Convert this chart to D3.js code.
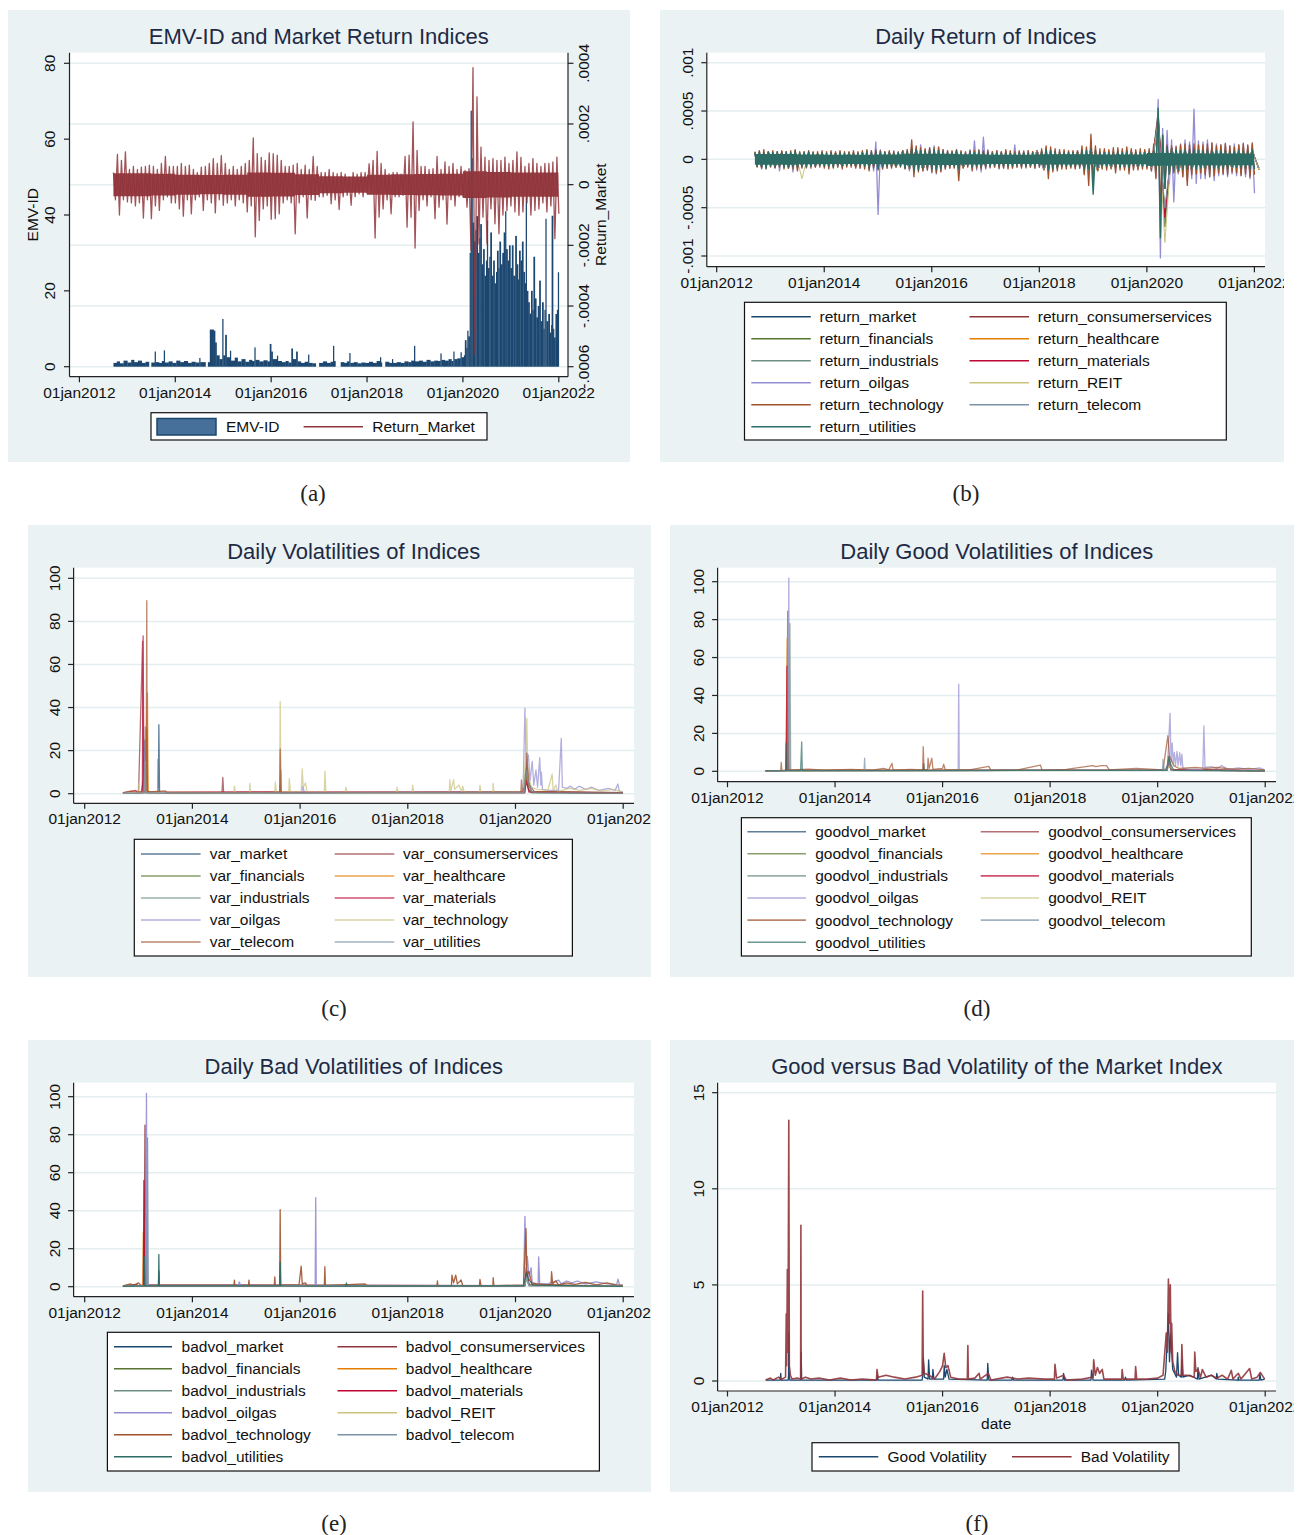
<!DOCTYPE html>
<html><head><meta charset="utf-8">
<script src="https://cdn.jsdelivr.net/npm/d3@7"></script>
<style>
body{margin:0;background:#fff}
svg{display:block}
text{font-family:"Liberation Sans",Arial,sans-serif}
</style></head>
<body><svg id="c" width="1298" height="1535"></svg>
<script>
// ---------------- DATA ----------------
const xTicks = [2012,2014,2016,2018,2020,2022];
const xTickLabels = ["01jan2012","01jan2014","01jan2016","01jan2018","01jan2020","01jan2022"];

// Panel (a): EMV-ID (bars, [decimal year, value]) and Return_Market (monthly high/low, units of 1e-5)
const emvId = [[2012.71,1.0],[2012.78,1.4],[2012.84,0.9],[2012.92,1.6],[2013.00,1.1],[2013.08,1.8],[2013.14,1.2],[2013.22,1.6],[2013.30,1.0],[2013.38,1.3],[2013.45,0],[2013.50,1.1],[2013.57,4.0],[2013.59,1.2],[2013.66,1.0],[2013.72,1.5],[2013.76,4.3],[2013.78,1.1],[2013.86,1.4],[2013.94,1.0],[2014.02,1.6],[2014.10,1.2],[2014.18,1.5],[2014.26,1.0],[2014.34,1.3],[2014.42,1.1],[2014.50,2.3],[2014.52,1.2],[2014.63,0],[2014.68,1.2],[2014.72,9.8],[2014.80,9.5],[2014.83,6.4],[2014.86,3.0],[2014.92,2.0],[2014.98,12.6],[2015.00,3.0],[2015.04,8.4],[2015.07,2.5],[2015.14,4.2],[2015.16,1.6],[2015.24,2.4],[2015.30,1.4],[2015.38,2.0],[2015.46,1.3],[2015.54,1.8],[2015.60,1.5],[2015.65,5.1],[2015.67,1.8],[2015.75,1.4],[2015.84,1.7],[2015.92,1.4],[2015.97,6.0],[2016.00,4.0],[2016.03,2.0],[2016.12,2.9],[2016.14,1.5],[2016.22,1.2],[2016.30,1.5],[2016.36,1.1],[2016.42,4.8],[2016.45,2.0],[2016.52,4.0],[2016.55,1.4],[2016.62,1.0],[2016.70,1.3],[2016.77,3.2],[2016.79,1.0],[2016.86,0.9],[2016.93,0],[2017.00,1.0],[2017.08,1.4],[2017.16,1.0],[2017.24,1.3],[2017.29,5.5],[2017.31,1.5],[2017.34,0],[2017.45,1.2],[2017.52,1.0],[2017.58,1.4],[2017.63,3.6],[2017.65,1.0],[2017.72,1.2],[2017.80,0.9],[2017.88,1.1],[2017.96,1.0],[2018.04,1.3],[2018.12,1.0],[2018.20,1.5],[2018.27,2.5],[2018.29,1.1],[2018.31,0],[2018.38,1.3],[2018.46,1.0],[2018.52,2.0],[2018.54,1.0],[2018.62,1.2],[2018.70,1.0],[2018.78,1.4],[2018.86,1.2],[2018.92,1.6],[2018.98,5.5],[2019.00,1.4],[2019.08,1.6],[2019.16,1.3],[2019.24,1.8],[2019.32,1.4],[2019.40,1.6],[2019.48,1.5],[2019.53,3.5],[2019.55,1.8],[2019.62,1.6],[2019.70,2.0],[2019.76,1.5],[2019.80,4.0],[2019.82,2.0],[2019.88,2.2],[2019.95,3.8],[2019.97,2.5],[2020.02,3.0],[2020.04,7.0],[2020.07,5.0],[2020.09,9.5],[2020.11,8.0],[2020.14,30],[2020.16,67.5],[2020.18,55],[2020.20,38],[2020.23,33],[2020.26,36],[2020.28,39.7],[2020.31,30],[2020.34,34],[2020.36,37.6],[2020.39,27],[2020.42,31],[2020.45,24],[2020.48,28],[2020.50,38.5],[2020.52,26],[2020.55,29],[2020.57,35.4],[2020.60,24],[2020.63,28],[2020.66,22],[2020.69,25],[2020.71,30.6],[2020.74,26],[2020.76,33],[2020.79,27],[2020.82,30],[2020.85,35.4],[2020.88,41],[2020.90,31],[2020.93,28],[2020.96,32],[2020.99,26],[2021.02,32],[2021.05,24],[2021.09,34.5],[2021.12,27],[2021.15,23],[2021.17,30.6],[2021.20,28],[2021.23,33],[2021.26,25],[2021.29,22],[2021.31,45],[2021.33,20],[2021.36,17],[2021.39,14],[2021.42,20],[2021.45,15],[2021.47,29],[2021.50,18],[2021.53,13],[2021.56,16],[2021.59,22.7],[2021.62,12],[2021.65,17],[2021.68,10],[2021.70,15],[2021.72,39],[2021.74,12],[2021.78,13.9],[2021.81,9],[2021.84,11],[2021.85,39.8],[2021.88,10],[2021.90,7.7],[2021.93,13.9],[2021.96,15],[2021.98,24.9],[2022.00,0]];

const monthStart = 2012.71;   // first trading month in the sample (Sep 2012)
const sampleEnd = 2021.99;
const retMarketHi = [4,10,8,10.8, 5,6,5,5.8,6,6.4,6,5,7,9.3,6,6, 6,7,6,6.4,5,4,5.8,6,7,8.6,7,9.6, 7,5,6,5,6,7,8,15.4,10.2,9,8,10.5, 10.2,9.7,8,6,6,6.4,7,5,6.4,5,9.3,6, 4,4,5,4,3.6,4,3.5,2.5,4,3.5,4,4, 6.9,8,11,7,5,3.6,4,4,3.5,9.3,9.7,20.7, 11.3,6,6,5,5.3,9.3,5,7.5,6,7,5,6, 4.7,5.3,38.6,28.9,12.4,9.1,8,8.6,8,8,9.1,7, 8,10.8,9,6,7,8.6,7,6,7,7,7.5,9.1];
const retMarketLo = [-5,-10,-5,-5.7, -6,-7,-6,-11,-5,-11.2,-7,-8.5,-5,-4,-6,-6, -8,-10.4,-5,-9.6,-5,-4,-8.5,-5,-6,-9.3,-5,-6.8, -6,-5,-7,-5,-6,-9,-7,-17.2,-11.8,-8,-7,-11.4, -11.2,-9.6,-6,-5,-6,-16.2,-6,-4,-11,-5,-5.2,-4, -4,-3.5,-6.3,-5,-8.2,-4,-3.5,-6.8,-4,-3,-4,-3, -3,-17.6,-10.7,-8,-5,-9.6,-4,-4,-3.5,-14,-10.7,-20.9, -8.5,-5,-7,-4,-11.2,-7.4,-5,-13,-5,-7,-4,-4, -7.4,-21.6,-56,-19.5,-10.7,-19.5,-8,-12.9,-16.2,-10,-8.5,-7, -9,-10.1,-9,-6,-10,-8.5,-8,-6,-9,-7,-17.8,-9.6];
// dense core of the daily return band, half-width per half-year from 2012H2 (units of 1e-5)
const halfYearStart = 2012.5;
const retMarketCore = [3.8,3.8,3.6,3.3,3.2,3.3,4.0,3.9,3.4,2.8,2.7,3.3,3.4,3.5,3.6,4.4,4.2,4.0,4.0];

// Panel (b): daily returns, high/low per period (units of 1e-5)
const qMarketHi = [5,5,5,6,5,5,5,6,5,5,5,7,8,6,5,6,5,4,4,4,4,7,6,5,6,8,6,5,6,6,39,9,8,8,8,7,7,8];
const qMarketLo = [-6,-6,-7,-6,-6,-6,-7,-6,-6,-6,-7,-9,-9,-7,-6,-8,-5,-4,-4,-4,-5,-10,-6,-6,-8,-10,-7,-6,-7,-9,-56,-10,-9,-9,-9,-8,-8,-9];
const qConsHi = [6,6,6,6,6,5,6,6,6,6,6,8,9,7,6,7,5,5,5,5,5,8,7,6,7,9,7,6,7,7,42,10,9,9,9,8,8,9];
const qConsLo = [-6,-7,-7,-6,-6,-6,-7,-7,-6,-6,-7,-9,-10,-8,-6,-8,-5,-5,-5,-5,-5,-10,-7,-6,-8,-11,-8,-7,-8,-9,-60,-12,-10,-10,-9,-9,-8,-10];
const qFinHi = [7,7,7,7,6,6,7,7,6,6,7,9,10,8,7,8,6,6,6,6,6,9,8,7,8,10,8,7,8,8,50,12,10,10,10,9,9,10];
const qFinLo = [-7,-8,-8,-7,-7,-7,-8,-7,-7,-7,-8,-10,-11,-9,-7,-9,-6,-6,-6,-6,-6,-11,-8,-7,-9,-12,-9,-8,-9,-10,-70,-13,-11,-11,-10,-10,-9,-11];
const qHealthHi = [6,6,6,6,6,6,6,6,6,6,6,8,8,7,6,7,6,5,5,5,5,8,7,6,7,8,7,6,7,7,40,10,9,9,8,8,8,9];
const qHealthLo = [-6,-6,-6,-6,-6,-6,-6,-6,-6,-6,-6,-9,-9,-8,-6,-8,-5,-5,-5,-5,-5,-10,-7,-6,-8,-10,-8,-7,-8,-9,-55,-11,-10,-9,-9,-9,-8,-9];
const qIndHi = [7,7,7,7,6,6,7,7,6,6,7,9,9,8,7,8,6,6,6,6,6,9,8,7,8,10,8,7,8,8,48,11,10,10,10,9,9,10];
const qIndLo = [-7,-7,-8,-7,-7,-7,-8,-7,-7,-7,-8,-10,-10,-9,-7,-9,-6,-6,-6,-6,-6,-11,-8,-7,-9,-12,-9,-8,-9,-10,-65,-13,-11,-11,-10,-10,-9,-11];
const qMatHi = [7,8,7,7,7,6,7,7,7,7,7,9,10,8,7,8,6,6,6,6,6,9,8,7,8,10,8,7,8,8,45,12,10,10,10,9,9,10];
const qMatLo = [-8,-8,-8,-7,-7,-7,-8,-8,-7,-7,-8,-10,-11,-9,-7,-9,-6,-6,-6,-6,-6,-11,-8,-7,-9,-12,-9,-8,-9,-10,-60,-14,-11,-11,-10,-10,-9,-11];
const qReitHi = [7,7,7,8,7,7,7,7,7,7,7,9,9,8,7,8,6,6,6,6,6,9,8,7,8,10,8,7,8,8,40,11,10,10,10,9,9,10];
const qReitLo = [-7,-8,-8,-20,-7,-7,-8,-7,-7,-7,-8,-10,-10,-9,-7,-9,-6,-6,-6,-6,-6,-11,-8,-7,-9,-12,-9,-8,-9,-10,-86,-13,-11,-11,-10,-10,-9,-11];
const qTelHi = [6,6,6,6,6,6,6,6,6,6,6,8,8,7,6,7,5,5,5,5,5,8,7,6,7,8,7,6,7,7,35,10,9,9,8,8,8,9];
const qTelLo = [-6,-6,-6,-6,-6,-6,-6,-6,-6,-6,-6,-9,-9,-8,-6,-8,-5,-5,-5,-5,-5,-10,-7,-6,-8,-10,-8,-7,-8,-9,-50,-11,-10,-9,-9,-9,-8,-9];
const mOilHi = [7,8,6,7, 7,6,8,7,6,7,6,8,7,6,6,7, 6,7,6,8,6,7,6,7,8,9,9,18, 10,8,8,9,7,8,10,14,12,15,10,12, 14,12,10,9,8,10,8,7,10,19,9,23, 10,8,9,8,9,8,15,8,9,9,8,9, 9,12,10,9,8,8,8,8,9,10,11,12, 10,8,9,8,9,10,9,10,9,8,8,8, 9,10,62,32,30,20,14,16,20,18,52,19, 18,20,17,16,15,17,14,16,15,17,14,16];
const mOilLo = [-7,-10,-8,-7, -8,-12,-7,-8,-13,-7,-8,-9,-7,-8,-6,-7, -7,-6,-8,-6,-7,-6,-8,-9,-8,-10,-12,-57, -10,-9,-8,-8,-7,-9,-12,-13,-10,-12,-11,-14, -15,-12,-10,-9,-8,-12,-8,-7,-10,-11,-13,-10, -9,-8,-10,-9,-8,-9,-8,-7,-9,-8,-9,-8, -9,-13,-11,-9,-8,-8,-8,-9,-9,-14,-13,-18, -10,-9,-9,-8,-11,-9,-9,-11,-9,-9,-8,-8, -12,-18,-102,-30,-25,-44,-15,-18,-22,-20,-25,-20, -20,-18,-22,-17,-16,-18,-15,-17,-16,-18,-20,-35];
const mTechHi = [8,9,10,8, 9,8,9,8,9,10,8,8,9,8,8,9, 8,9,8,9,8,8,9,8,9,10,9,10, 9,8,9,8,8,9,10,20,14,12,11,12, 12,13,10,9,9,10,9,8,9,9,10,9, 9,8,9,8,10,9,8,9,8,9,8,9, 11,14,13,11,10,10,9,9,9,14,13,26, 14,11,11,10,12,12,11,13,11,10,11,10, 11,16,45,25,15,14,13,15,16,15,16,15, 15,16,17,14,15,16,14,13,15,16,15,17];
const mTechLo = [-8,-9,-10,-8, -9,-8,-10,-9,-10,-12,-9,-8,-9,-8,-8,-9, -10,-9,-8,-10,-8,-8,-9,-9,-10,-12,-9,-11, -10,-9,-9,-8,-8,-10,-10,-18,-13,-12,-11,-13, -14,-13,-10,-9,-9,-22,-9,-8,-12,-9,-10,-9, -8,-8,-9,-9,-10,-9,-8,-9,-8,-8,-9,-8, -11,-20,-13,-12,-10,-10,-9,-10,-9,-16,-27,-24, -12,-10,-11,-10,-14,-11,-11,-15,-11,-11,-10,-10, -12,-20,-55,-30,-15,-14,-13,-18,-27,-16,-15,-14, -16,-18,-17,-14,-15,-16,-13,-14,-17,-15,-18,-16];
const mUtilHi = [7,8,7,8, 7,8,7,8,7,9,7,7,8,7,6,7, 6,7,6,7,6,6,7,6,7,8,7,8, 8,7,7,6,7,8,8,11,10,9,9,10, 10,9,8,7,7,9,7,6,8,7,8,7, 7,6,7,7,7,6,6,7,7,6,7,7, 8,10,9,8,7,7,7,7,7,9,9,11, 9,7,7,7,7,8,7,8,7,7,7,7, 7,9,53,25,13,11,10,9,10,10,10,9, 9,10,9,9,9,9,8,8,9,9,9,10];
const mUtilLo = [-7,-8,-9,-7, -8,-7,-8,-9,-7,-9,-7,-8,-7,-7,-6,-7, -7,-8,-6,-7,-6,-6,-7,-6,-7,-9,-7,-10, -8,-7,-7,-7,-7,-9,-8,-12,-11,-9,-9,-10, -11,-10,-8,-7,-7,-10,-7,-6,-8,-7,-8,-7, -7,-6,-7,-7,-7,-7,-6,-7,-7,-6,-7,-6, -8,-11,-10,-9,-7,-7,-7,-7,-7,-10,-10,-36, -9,-7,-7,-7,-8,-8,-7,-9,-7,-7,-7,-7, -7,-10,-81,-30,-15,-12,-11,-10,-11,-10,-10,-9, -9,-10,-9,-9,-9,-10,-8,-8,-9,-9,-10,-10];
// dense core of the utilities return band, half-width per half-year from 2012H2 (units of 1e-5)
const utilCore = [5.5,5.5,5,4.7,4.7,5,5.8,5.8,5.2,4.7,4.7,5.3,5.3,5,5,6.5,6,6,6];

// Panel (c): daily volatilities ([decimal year, value])
const varMarket = [[2012.71,0.3],[2013.05,0.5],[2013.10,8],[2013.12,24],[2013.14,1],[2013.36,0.4],[2013.364,16],[2013.37,3],[2013.377,32],[2013.39,0.4],[2015.62,0.5],[2015.63,4],[2015.645,0.5],[2020.15,0.6],[2020.18,9],[2020.21,5],[2020.25,1.5],[2020.35,0.6],[2021.99,0.3]];
const varConsumer = [[2012.71,0.4],[2013.0,0.6],[2013.075,70.7],[2013.09,1],[2013.15,0.6],[2013.155,30],[2013.17,0.6],[2014.55,0.5],[2014.565,7.6],[2014.58,0.5],[2015.63,0.8],[2015.64,11],[2015.65,0.5],[2020.17,1],[2020.21,14],[2020.26,4],[2020.35,1],[2021.99,0.5]];
const varFinancials = [[2012.71,0.2],[2013.10,0.5],[2013.12,25],[2013.14,0.4],[2020.16,0.5],[2020.2,12],[2020.25,2],[2020.3,0.4],[2021.99,0.2]];
const varHealthcare = [[2012.71,0.3],[2013.13,0.5],[2013.165,46.7],[2013.18,0.5],[2020.17,0.5],[2020.21,8],[2020.26,1],[2021.99,0.3]];
const varIndustrials = [[2012.71,0.2],[2013.11,0.4],[2013.125,31],[2013.14,0.4],[2020.17,0.5],[2020.2,10],[2020.25,1],[2021.99,0.2]];
const varMaterials = [[2012.71,0.4],[2012.95,1.5],[2013.0,0.6],[2013.07,1],[2013.085,73.3],[2013.10,1],[2020.17,0.5],[2020.2,6],[2020.25,0.8],[2021.99,0.4]];
const varOilgas = [[2012.71,0.3],[2013.10,0.5],[2013.12,24],[2013.14,0.5],[2016.03,0.5],[2016.05,3.5],[2016.08,0.5],[2020.14,0.6],[2020.175,39.7],[2020.20,12],[2020.24,18],[2020.27,6],[2020.31,15],[2020.34,4],[2020.38,11],[2020.41,3],[2020.45,16.7],[2020.47,4],[2020.48,10],[2020.50,2],[2020.6,1.5],[2020.8,1.5],[2020.85,25.7],[2020.87,3],[2020.95,2.5],[2021.02,3.5],[2021.1,2],[2021.18,3.5],[2021.3,2],[2021.42,3],[2021.55,1.5],[2021.72,2.5],[2021.85,1.5],[2021.9,4.5],[2021.93,1],[2021.99,1]];
const varTechnology = [[2012.71,0.5],[2012.99,0.6],[2013.0,4.8],[2013.01,0.6],[2013.12,0.8],[2013.13,15],[2013.15,0.8],[2014.77,0.5],[2014.78,3.5],[2014.80,0.5],[2015.06,0.5],[2015.066,4.8],[2015.08,0.5],[2015.53,0.6],[2015.54,5.4],[2015.56,0.6],[2015.62,0.8],[2015.63,42.8],[2015.645,1],[2015.79,0.8],[2015.80,7],[2015.82,0.8],[2016.02,1],[2016.04,11.5],[2016.06,3],[2016.10,5],[2016.13,0.8],[2016.45,0.6],[2016.46,10.5],[2016.48,0.6],[2016.84,0.5],[2016.85,3],[2016.87,0.5],[2017.79,0.5],[2017.80,3],[2017.82,0.5],[2018.08,0.5],[2018.09,4],[2018.11,0.5],[2018.77,0.6],[2018.78,6.5],[2018.80,1.5],[2018.85,6.5],[2018.87,2],[2018.95,4],[2019.0,1],[2019.02,3.5],[2019.05,0.6],[2019.33,0.6],[2019.34,4],[2019.36,0.6],[2019.58,0.6],[2019.585,4.8],[2019.60,0.6],[2020.15,0.8],[2020.19,20],[2020.21,35],[2020.23,8],[2020.30,3],[2020.40,2],[2020.60,1.5],[2020.68,9.1],[2020.70,1.5],[2020.75,4],[2020.78,1],[2021.0,2.5],[2021.2,1.5],[2021.4,2.5],[2021.6,1.2],[2021.8,2],[2021.99,1]];
const varTelecom = [[2012.71,0.5],[2012.85,1.2],[2013.0,0.8],[2013.14,1],[2013.153,89.6],[2013.16,2],[2013.18,0.8],[2013.5,1.3],[2013.52,0.5],[2015.62,0.6],[2015.63,20.8],[2015.645,0.6],[2020.10,0.6],[2020.11,6.4],[2020.13,0.8],[2020.19,4],[2020.21,18.8],[2020.24,5],[2020.30,1],[2021.99,0.5]];
const varUtilities = [[2012.71,0.2],[2013.10,0.4],[2013.12,13],[2013.135,0.4],[2020.16,0.5],[2020.2,11],[2020.23,6],[2020.3,1],[2020.4,0.5],[2021.99,0.2]];

// Panel (d): good volatilities
const gvMarket = [[2012.71,0.2],[2013.10,0.4],[2013.12,10],[2013.14,0.4],[2020.17,0.5],[2020.21,6],[2020.25,1],[2021.99,0.2]];
const gvConsumer = [[2012.71,0.3],[2013.10,0.5],[2013.115,20],[2013.13,0.5],[2020.17,0.5],[2020.2,8],[2020.25,1],[2021.99,0.3]];
const gvFinancials = [[2012.71,0.2],[2013.10,0.4],[2013.12,84.5],[2013.135,0.5],[2020.17,0.5],[2020.2,6],[2020.25,0.8],[2021.99,0.2]];
const gvHealthcare = [[2012.71,0.2],[2013.09,0.4],[2013.11,70],[2013.125,0.4],[2020.17,0.5],[2020.21,5],[2020.25,0.8],[2021.99,0.2]];
const gvIndustrials = [[2012.71,0.2],[2013.14,0.4],[2013.16,78],[2013.175,0.4],[2020.17,0.5],[2020.21,7],[2020.25,0.8],[2021.99,0.2]];
const gvMaterials = [[2012.71,0.3],[2013.09,0.5],[2013.105,55.5],[2013.12,0.5],[2020.17,0.5],[2020.21,4],[2020.25,0.8],[2021.99,0.3]];
const gvOilgas = [[2012.71,0.3],[2013.12,0.5],[2013.14,102],[2013.155,0.5],[2016.29,0.4],[2016.30,45.9],[2016.31,0.4],[2020.18,0.6],[2020.23,30.6],[2020.25,5],[2020.27,15],[2020.29,4],[2020.31,10],[2020.33,3],[2020.36,10.5],[2020.38,3],[2020.41,9.8],[2020.43,3],[2020.45,9],[2020.47,1.5],[2020.6,1],[2020.84,1],[2020.86,23.9],[2020.88,2],[2021.0,2.5],[2021.1,1.5],[2021.19,3],[2021.3,1],[2021.5,1.8],[2021.7,1],[2021.9,1.8],[2021.99,0.8]];
const gvReit = [[2012.71,0.3],[2020.17,0.5],[2020.22,3],[2020.3,0.5],[2021.99,0.3]];
const gvTechnology = [[2012.71,0.4],[2012.99,0.5],[2013.0,4.7],[2013.01,0.5],[2013.2,0.8],[2013.5,1.2],[2013.8,0.6],[2014.3,1],[2014.7,0.6],[2014.9,1.5],[2015.0,0.8],[2015.06,4.2],[2015.08,0.6],[2015.4,1],[2015.63,0.8],[2015.64,13],[2015.655,1],[2015.72,0.8],[2015.73,6.9],[2015.75,1.5],[2015.80,6.9],[2015.82,1],[2016.0,1.5],[2016.02,3.7],[2016.05,0.8],[2016.5,0.8],[2016.86,2.6],[2016.9,0.5],[2017.4,0.8],[2017.82,3.3],[2017.85,0.5],[2018.3,1],[2018.79,3],[2018.85,2.5],[2018.95,3],[2019.05,3],[2019.1,0.8],[2019.6,1.5],[2020.1,0.8],[2020.19,18.8],[2020.22,8],[2020.3,3],[2020.4,1.5],[2020.7,2],[2020.9,1.5],[2021.1,2],[2021.4,1.2],[2021.7,1.5],[2021.99,0.8]];
const gvTelecom = [[2012.71,0.3],[2014.54,0.4],[2014.55,6.9],[2014.56,0.4],[2020.09,0.5],[2020.10,6.3],[2020.12,0.5],[2020.21,4],[2020.25,0.5],[2021.99,0.3]];
const gvUtilities = [[2012.71,0.2],[2013.08,0.4],[2013.09,14.8],[2013.10,0.4],[2013.36,0.4],[2013.37,8],[2013.38,15.5],[2013.39,0.4],[2015.64,0.4],[2015.65,4],[2015.66,0.4],[2020.17,0.5],[2020.21,7.7],[2020.24,4],[2020.30,0.5],[2021.99,0.2]];

// Panel (e): bad volatilities
const bvMarket = [[2012.71,0.3],[2013.10,0.5],[2013.12,13],[2013.135,0.5],[2013.37,0.4],[2013.377,8.2],[2013.385,0.4],[2020.17,0.5],[2020.2,5],[2020.25,0.8],[2021.99,0.3]];
const bvConsumer = [[2012.71,0.4],[2012.95,1.2],[2013.0,0.6],[2013.105,0.8],[2013.12,85],[2013.13,1],[2020.17,0.6],[2020.2,10],[2020.25,1],[2021.99,0.4]];
const bvFinancials = [[2012.71,0.2],[2013.11,0.4],[2013.125,45],[2013.14,0.4],[2020.17,0.5],[2020.2,5],[2020.25,0.8],[2021.99,0.2]];
const bvHealthcare = [[2012.71,0.3],[2013.08,0.4],[2013.09,28.8],[2013.10,0.4],[2020.17,0.5],[2020.21,6],[2020.25,0.8],[2021.99,0.3]];
const bvIndustrials = [[2012.71,0.2],[2013.12,0.4],[2013.135,35],[2013.15,0.4],[2020.17,0.5],[2020.21,6],[2020.25,0.8],[2021.99,0.2]];
const bvMaterials = [[2012.71,0.3],[2013.09,0.5],[2013.10,56],[2013.11,0.5],[2020.17,0.5],[2020.21,8],[2020.25,0.8],[2021.99,0.3]];
const bvOilgas = [[2012.71,0.3],[2013.13,0.5],[2013.147,101.7],[2013.16,0.5],[2014.85,0.4],[2014.87,2.5],[2014.9,0.4],[2016.28,0.4],[2016.29,46.9],[2016.30,0.4],[2020.15,0.6],[2020.175,37],[2020.20,8],[2020.22,16],[2020.25,5],[2020.29,10],[2020.31,2],[2020.42,1.5],[2020.43,15.7],[2020.45,1.5],[2020.6,1.5],[2020.8,3.5],[2020.85,1.5],[2020.95,3],[2021.05,2],[2021.15,3],[2021.3,1.5],[2021.5,2.5],[2021.7,1.5],[2021.88,1.2],[2021.905,4],[2021.93,1],[2021.99,0.8]];
const bvReit = [[2012.71,0.3],[2020.17,0.5],[2020.2,5],[2020.25,0.5],[2021.99,0.3]];
const bvTechnology = [[2012.71,0.4],[2012.85,1.5],[2012.9,0.5],[2013.0,2],[2013.05,0.5],[2014.77,0.4],[2014.78,3.5],[2014.79,0.4],[2015.04,0.4],[2015.05,3.5],[2015.06,0.4],[2015.52,0.5],[2015.53,5.2],[2015.54,0.5],[2015.62,0.6],[2015.63,40.6],[2015.64,0.8],[2015.98,1],[2016.02,10.8],[2016.04,1.5],[2016.1,2],[2016.13,0.5],[2016.45,0.5],[2016.46,10.5],[2016.47,0.5],[2017.2,1.5],[2017.25,0.4],[2018.54,0.4],[2018.55,3],[2018.56,0.4],[2018.81,0.5],[2018.82,6.1],[2018.85,2],[2018.89,6.1],[2018.92,1.5],[2018.99,3.5],[2019.02,0.5],[2019.33,0.5],[2019.34,3.8],[2019.36,0.5],[2019.58,0.5],[2019.585,4.7],[2019.60,0.5],[2020.15,1],[2020.195,30.6],[2020.21,6],[2020.25,8],[2020.3,2],[2020.4,1.5],[2020.66,1],[2020.67,7.9],[2020.69,1.5],[2020.75,3],[2020.8,1],[2020.95,2],[2021.1,1.2],[2021.3,2.3],[2021.5,1],[2021.7,2],[2021.85,1],[2021.99,0.8]];
const bvTelecom = [[2012.71,0.3],[2013.155,0.5],[2013.167,78.3],[2013.18,0.5],[2020.17,0.5],[2020.21,5],[2020.25,0.5],[2021.99,0.3]];
const bvUtilities = [[2012.71,0.2],[2013.10,0.4],[2013.11,15.7],[2013.12,0.4],[2013.37,0.4],[2013.377,17],[2013.385,0.4],[2015.62,0.4],[2015.63,13],[2015.64,0.4],[2016.85,0.3],[2016.86,2],[2016.87,0.3],[2020.15,0.5],[2020.2,7],[2020.23,5],[2020.27,3],[2020.32,0.8],[2021.99,0.2]];

// Panel (f): good vs bad volatility of the market index
const goodVol = [[2012.71,0.05],[2012.98,0.05],[2012.99,0.4],[2013.0,0.05],[2013.13,0.05],[2013.135,0.3],[2013.14,2.5],[2013.15,0.2],[2013.16,0.05],[2013.36,0.05],[2013.37,1.5],[2013.38,0.05],[2014.78,0.05],[2014.79,0.3],[2014.8,0.05],[2015.62,0.05],[2015.63,0.3],[2015.64,1.2],[2015.66,0.2],[2015.73,0.1],[2015.74,1.1],[2015.76,0.1],[2015.81,0.1],[2015.82,0.6],[2015.84,0.1],[2016.02,0.1],[2016.03,0.8],[2016.05,0.2],[2016.08,0.6],[2016.12,0.1],[2016.83,0.05],[2016.84,0.92],[2016.86,0.05],[2017.29,0.05],[2017.3,0.2],[2017.32,0.05],[2018.24,0.05],[2018.25,0.4],[2018.27,0.05],[2018.76,0.05],[2018.77,0.57],[2018.8,0.05],[2019.39,0.05],[2019.4,0.2],[2019.42,0.05],[2020.13,0.1],[2020.15,0.5],[2020.2,3.5],[2020.22,1.0],[2020.24,2.5],[2020.28,0.6],[2020.35,0.2],[2020.37,1.47],[2020.39,0.3],[2020.44,0.2],[2020.45,1.1],[2020.47,0.2],[2020.6,0.3],[2020.74,0.1],[2020.75,0.7],[2020.77,0.1],[2021.0,0.3],[2021.09,0.1],[2021.1,0.4],[2021.12,0.1],[2021.49,0.05],[2021.5,0.2],[2021.51,0.05],[2021.89,0.05],[2021.9,0.4],[2021.92,0.05],[2021.99,0.1]];
const badVol = [[2012.71,0.05],[2012.8,0.15],[2012.85,0.05],[2012.95,0.2],[2013.0,0.08],[2013.08,0.2],[2013.093,3.5],[2013.10,0.8],[2013.113,5.8],[2013.125,1.5],[2013.14,13.57],[2013.15,0.8],[2013.17,0.3],[2013.2,0.1],[2013.3,0.15],[2013.36,0.1],[2013.365,8.1],[2013.37,0.1],[2013.45,0.2],[2013.55,0.1],[2013.7,0.15],[2013.9,0.05],[2014.1,0.15],[2014.3,0.05],[2014.5,0.1],[2014.77,0.05],[2014.78,0.6],[2014.8,0.2],[2014.95,0.3],[2015.1,0.2],[2015.3,0.1],[2015.5,0.2],[2015.62,0.3],[2015.63,4.68],[2015.64,1.2],[2015.66,0.4],[2015.75,0.3],[2015.85,0.1],[2015.95,0.5],[2016.0,0.8],[2016.03,1.44],[2016.06,0.7],[2016.1,0.8],[2016.15,0.2],[2016.3,0.1],[2016.46,0.1],[2016.47,1.84],[2016.48,0.1],[2016.6,0.15],[2016.68,0.4],[2016.7,0.1],[2016.85,0.4],[2016.9,0.05],[2017.2,0.2],[2017.4,0.1],[2017.6,0.15],[2017.9,0.1],[2018.08,0.1],[2018.09,0.87],[2018.12,0.15],[2018.25,0.3],[2018.3,0.05],[2018.6,0.1],[2018.80,0.2],[2018.81,1.1],[2018.84,0.3],[2018.88,0.7],[2018.92,0.4],[2018.97,0.6],[2019.0,0.1],[2019.2,0.1],[2019.33,0.1],[2019.34,0.6],[2019.36,0.1],[2019.58,0.1],[2019.59,0.75],[2019.61,0.1],[2019.8,0.1],[2020.0,0.15],[2020.1,0.3],[2020.16,2.5],[2020.18,1.5],[2020.20,5.3],[2020.215,3],[2020.235,5.0],[2020.25,1.5],[2020.26,3.0],[2020.28,1],[2020.32,0.5],[2020.38,0.3],[2020.44,0.3],[2020.45,1.9],[2020.47,0.3],[2020.55,0.3],[2020.68,0.2],[2020.69,1.5],[2020.71,0.5],[2020.75,0.6],[2020.8,0.2],[2020.83,0.6],[2020.9,0.2],[2021.0,0.3],[2021.1,0.15],[2021.2,0.3],[2021.3,0.1],[2021.37,0.55],[2021.4,0.1],[2021.5,0.4],[2021.55,0.1],[2021.71,0.65],[2021.75,0.1],[2021.85,0.2],[2021.91,0.45],[2021.99,0.1]];

// ---------------- STYLE ----------------
const C = {navy:"#1a476f", maroon:"#90353b", forest:"#55752f", dkorange:"#e37e00", teal:"#6e8e84",
  cranberry:"#c10534", lavender:"#938dd2", khaki:"#cac27e", sienna:"#a0522d", emidblue:"#7b92a8", emerald:"#2d6d66"};
const BG = "#eaf2f3", GRID = "#e4eef0", AXIS = "#222", TXT = "#111", TITLE = "#1e2a45";
const FS = 15.5;

const svg = d3.select("#c");
let clipN = 0;

function zig(hi, lo, start, step){
  const pts = [];
  hi.forEach((h,i)=>{ pts.push([start+i*step, h]); pts.push([start+(i+0.5)*step, lo[i]]); });
  return pts;
}

function panel(o){
  const id = "clip"+(clipN++);
  svg.append("clipPath").attr("id",id).append("rect")
    .attr("x",o.bg[0]).attr("y",o.bg[1]).attr("width",o.bg[2]-o.bg[0]).attr("height",o.bg[3]-o.bg[1]);
  const g = svg.append("g").attr("clip-path",`url(#${id})`);
  g.append("rect").attr("x",o.bg[0]).attr("y",o.bg[1]).attr("width",o.bg[2]-o.bg[0]).attr("height",o.bg[3]-o.bg[1]).attr("fill",BG);
  g.append("rect").attr("x",o.pl).attr("y",o.pt).attr("width",o.pr-o.pl).attr("height",o.pb-o.pt).attr("fill","#fff");
  const x = d3.scaleLinear().domain([2012,2022]).range(o.xr);
  const y = d3.scaleLinear().domain(o.yd).range(o.yr);
  const gy = o.gridScale || y;
  g.selectAll(null).data(o.grid).join("line")
    .attr("x1",o.pl).attr("x2",o.pr).attr("y1",d=>gy(d)).attr("y2",d=>gy(d))
    .attr("stroke",GRID).attr("stroke-width",1.5);
  const data = g.append("g");
  const ax = g.append("g");
  ax.append("line").attr("x1",o.pl).attr("x2",o.pl).attr("y1",o.pt).attr("y2",o.pb).attr("stroke",AXIS).attr("stroke-width",1.2);
  ax.append("line").attr("x1",o.pl).attr("x2",o.pr).attr("y1",o.pb).attr("y2",o.pb).attr("stroke",AXIS).attr("stroke-width",1.2);
  ax.selectAll(null).data(xTicks).join("line")
    .attr("x1",d=>x(d)).attr("x2",d=>x(d)).attr("y1",o.pb).attr("y2",o.pb+5.5).attr("stroke",AXIS).attr("stroke-width",1.2);
  ax.selectAll(null).data(xTicks).join("text")
    .attr("x",d=>x(d)).attr("y",o.pb+15.5).attr("dy","0.35em").attr("text-anchor","middle")
    .attr("font-size",FS).attr("fill",TXT).text((d,i)=>xTickLabels[i]);
  ax.selectAll(null).data(o.yt).join("line")
    .attr("x1",o.pl-5.5).attr("x2",o.pl).attr("y1",d=>y(d)).attr("y2",d=>y(d)).attr("stroke",AXIS).attr("stroke-width",1.2);
  ax.selectAll(null).data(o.yt).join("text")
    .attr("transform",d=>`translate(${o.pl-19.5},${y(d)}) rotate(-90)`)
    .attr("dy","0.35em").attr("text-anchor","middle").attr("font-size",FS).attr("fill",TXT)
    .text((d,i)=>o.ytl[i]);
  g.append("text").attr("x",(o.pl+o.pr)/2).attr("y",o.ty).attr("dy","0.35em").attr("text-anchor","middle")
    .attr("font-size",22).attr("fill",TITLE).text(o.title);
  return {g, x, y, data, ax};
}

function lineSeries(p, pts, color, opacity, width, yScale){
  const ys = yScale || p.y;
  p.data.append("path").datum(pts)
    .attr("d", d3.line().x(d=>p.x(d[0])).y(d=>ys(d[1])))
    .attr("fill","none").attr("stroke",color).attr("stroke-opacity",opacity)
    .attr("stroke-width",width||1.1).attr("stroke-linejoin","round");
}

// symmetric dense-core band (half-width per period), clipped to the sample
function coreBand(p, vals, start, step, color, opacity, yScale){
  const ys = yScale || p.y;
  const pts = [];
  vals.forEach((v,i)=>{
    const a = Math.max(monthStart, start+i*step), b = Math.min(sampleEnd, start+(i+1)*step);
    if (b > a) { pts.push([a,v]); pts.push([b,v]); }
  });
  p.data.append("path").datum(pts)
    .attr("d", d3.area().x(d=>p.x(d[0])).y0(d=>ys(-d[1])).y1(d=>ys(d[1])))
    .attr("fill",color).attr("fill-opacity",opacity);
}

function legend(g, o){
  g.append("rect").attr("x",o.box[0]).attr("y",o.box[1]).attr("width",o.box[2]-o.box[0]).attr("height",o.box[3]-o.box[1])
    .attr("fill","#fff").attr("stroke","#111").attr("stroke-width",1.2);
  o.items.forEach((it,i)=>{
    const col = o.cols[i % 2], row = Math.floor(i/2);
    const yy = o.row0 + row*o.dy;
    g.append("line").attr("x1",col[0]).attr("x2",col[1]).attr("y1",yy).attr("y2",yy)
      .attr("stroke",it.color).attr("stroke-opacity",it.op||1).attr("stroke-width",1.6);
    g.append("text").attr("x",col[2]).attr("y",yy).attr("dy","0.35em").attr("font-size",FS).attr("fill",TXT).text(it.label);
  });
}

function subcap(x, y, s){
  svg.append("text").attr("x",x).attr("y",y).attr("dy","0.35em").attr("text-anchor","middle")
    .style("font-family","'Liberation Serif','DejaVu Serif',serif").attr("font-size",23).attr("fill","#222").text(s);
}

// ---------------- PANEL (a) ----------------
{
  const yR = d3.scaleLinear().domain([-60,40]).range([366.7,63.3]);
  const p = panel({bg:[8,10,630,462], pl:69.5, pr:568, pt:52.7, pb:376.7, xr:[79.4,558.8],
    yd:[0,80], yr:[366.7,63.3], yt:[0,20,40,60,80], ytl:["0","20","40","60","80"],
    grid:[-60,-40,-20,0,20,40], gridScale:yR, ty:36, title:"EMV-ID and Market Return Indices"});
  const bars = emvId.slice(0,-1).map((d,i)=>({t0:d[0], t1:emvId[i+1][0], v:d[1]}));
  p.data.selectAll(null).data(bars).join("rect")
    .attr("x",d=>p.x(d.t0)).attr("width",d=>Math.max(0.9, p.x(d.t1)-p.x(d.t0)+0.3))
    .attr("y",d=>p.y(d.v)).attr("height",d=>p.y(0)-p.y(d.v)).attr("fill","#1c4770");
  coreBand(p, retMarketCore, halfYearStart, 0.5, C.maroon, 0.95, yR);
  lineSeries(p, zig(retMarketHi, retMarketLo, monthStart, 1/12), C.maroon, 0.85, 1.3, yR);
  p.ax.append("line").attr("x1",568).attr("x2",568).attr("y1",52.7).attr("y2",376.7).attr("stroke",AXIS).attr("stroke-width",1.2);
  const rt = [-60,-40,-20,0,20,40], rtl = ["-.0006","-.0004","-.0002","0",".0002",".0004"];
  p.ax.selectAll(null).data(rt).join("line").attr("x1",568).attr("x2",573.5).attr("y1",d=>yR(d)).attr("y2",d=>yR(d)).attr("stroke",AXIS).attr("stroke-width",1.2);
  p.ax.selectAll(null).data(rt).join("text")
    .attr("transform",d=>`translate(${583.5},${yR(d)}) rotate(-90)`).attr("dy","0.35em").attr("text-anchor","middle")
    .attr("font-size",FS).attr("fill",TXT).text((d,i)=>rtl[i]);
  p.g.append("text").attr("transform","translate(32.6,214.7) rotate(-90)").attr("dy","0.35em").attr("text-anchor","middle").attr("font-size",FS).attr("fill",TXT).text("EMV-ID");
  p.g.append("text").attr("transform","translate(601,214.7) rotate(-90)").attr("dy","0.35em").attr("text-anchor","middle").attr("font-size",FS).attr("fill",TXT).text("Return_Market");
  p.g.append("rect").attr("x",151).attr("y",412.7).attr("width",336).attr("height",27.3).attr("fill","#fff").attr("stroke","#111").attr("stroke-width",1.2);
  p.g.append("rect").attr("x",157).attr("y",418.5).attr("width",59).attr("height",16.5).attr("fill","#46709a").attr("stroke","#1a476f").attr("stroke-width",1.5);
  p.g.append("text").attr("x",226).attr("y",426.7).attr("dy","0.35em").attr("font-size",FS).attr("fill",TXT).text("EMV-ID");
  p.g.append("line").attr("x1",303.6).attr("x2",363).attr("y1",426.7).attr("y2",426.7).attr("stroke",C.maroon).attr("stroke-width",1.6);
  p.g.append("text").attr("x",372.3).attr("y",426.7).attr("dy","0.35em").attr("font-size",FS).attr("fill",TXT).text("Return_Market");
}

// ---------------- PANEL (b) ----------------
{
  const p = panel({bg:[660,10,1284,462], pl:706.8, pr:1265, pt:52.7, pb:266.7, xr:[716.7,1254.4],
    yd:[-100,100], yr:[256,62.7], yt:[-100,-50,0,50,100], ytl:["-.001","-.0005","0",".0005",".001"],
    grid:[-100,-50,0,50,100], ty:36, title:"Daily Return of Indices"});
  const series = [
    {label:"return_market", color:C.navy, pts:zig(qMarketHi,qMarketLo,monthStart,0.25), w:1.0},
    {label:"return_consumerservices", color:C.maroon, pts:zig(qConsHi,qConsLo,monthStart,0.25), w:1.0},
    {label:"return_financials", color:C.forest, pts:zig(qFinHi,qFinLo,monthStart,0.25), w:1.0},
    {label:"return_healthcare", color:C.dkorange, pts:zig(qHealthHi,qHealthLo,monthStart,0.25), w:1.0},
    {label:"return_industrials", color:C.teal, pts:zig(qIndHi,qIndLo,monthStart,0.25), w:1.0},
    {label:"return_materials", color:C.cranberry, pts:zig(qMatHi,qMatLo,monthStart,0.25), w:1.0},
    {label:"return_oilgas", color:C.lavender, pts:zig(mOilHi,mOilLo,monthStart,1/12), w:1.3},
    {label:"return_REIT", color:C.khaki, pts:zig(qReitHi,qReitLo,monthStart,0.25), w:1.0},
    {label:"return_technology", color:C.sienna, pts:zig(mTechHi,mTechLo,monthStart,1/12), w:1.3},
    {label:"return_telecom", color:C.emidblue, pts:zig(qTelHi,qTelLo,monthStart,0.25), w:1.0},
    {label:"return_utilities", color:C.emerald, pts:zig(mUtilHi,mUtilLo,monthStart,1/12), w:1.4, core:utilCore}
  ];
  series.forEach(s=>{
    if (s.core) coreBand(p, s.core, halfYearStart, 0.5, s.color, 1);
    lineSeries(p, s.pts, s.color, 1, s.w);
  });
  legend(p.g, {box:[744.5,302.3,1226.3,440], row0:316.7, dy:22, cols:[[751.3,810.8,819.5],[969.5,1029,1037.8]],
    items:series.map(s=>({label:s.label,color:s.color}))});
}

// ---------------- PANEL (c) ----------------
{
  const p = panel({bg:[28,525,651,977], pl:73.6, pr:634, pt:567.7, pb:803.3, xr:[84.7,623.2],
    yd:[0,100], yr:[793.7,578.3], yt:[0,20,40,60,80,100], ytl:["0","20","40","60","80","100"],
    grid:[0,20,40,60,80,100], ty:551.7, title:"Daily Volatilities of Indices"});
  const series = [
    {label:"var_market", color:C.navy, pts:varMarket},
    {label:"var_consumerservices", color:C.maroon, pts:varConsumer},
    {label:"var_financials", color:C.forest, pts:varFinancials},
    {label:"var_healthcare", color:C.dkorange, pts:varHealthcare},
    {label:"var_industrials", color:C.teal, pts:varIndustrials},
    {label:"var_materials", color:C.cranberry, pts:varMaterials},
    {label:"var_oilgas", color:C.lavender, pts:varOilgas},
    {label:"var_technology", color:C.khaki, pts:varTechnology},
    {label:"var_telecom", color:C.sienna, pts:varTelecom},
    {label:"var_utilities", color:C.emidblue, pts:varUtilities}
  ];
  series.forEach(s=>lineSeries(p, s.pts, s.color, 0.7, 1.3));
  legend(p.g, {box:[134.3,839.3,572.4,956], row0:854, dy:22, cols:[[141,200.6,209.7],[334.7,394.3,403]],
    items:series.map(s=>({label:s.label,color:s.color,op:0.7}))});
}

// ---------------- PANEL (d) ----------------
{
  const p = panel({bg:[670,525,1294,977], pl:717.6, pr:1276, pt:567.7, pb:781.7, xr:[727.5,1265.2],
    yd:[0,100], yr:[771.3,581.7], yt:[0,20,40,60,80,100], ytl:["0","20","40","60","80","100"],
    grid:[0,20,40,60,80,100], ty:551.7, title:"Daily Good Volatilities of Indices"});
  const series = [
    {label:"goodvol_market", color:C.navy, pts:gvMarket},
    {label:"goodvol_consumerservices", color:C.maroon, pts:gvConsumer},
    {label:"goodvol_financials", color:C.forest, pts:gvFinancials},
    {label:"goodvol_healthcare", color:C.dkorange, pts:gvHealthcare},
    {label:"goodvol_industrials", color:C.teal, pts:gvIndustrials},
    {label:"goodvol_materials", color:C.cranberry, pts:gvMaterials},
    {label:"goodvol_oilgas", color:C.lavender, pts:gvOilgas},
    {label:"goodvol_REIT", color:C.khaki, pts:gvReit},
    {label:"goodvol_technology", color:C.sienna, pts:gvTechnology},
    {label:"goodvol_telecom", color:C.emidblue, pts:gvTelecom},
    {label:"goodvol_utilities", color:C.emerald, pts:gvUtilities}
  ];
  series.forEach(s=>lineSeries(p, s.pts, s.color, 0.7, 1.3));
  legend(p.g, {box:[741.4,817.7,1251.3,956], row0:831.7, dy:22.1, cols:[[747.4,806,815.2],[980.7,1039,1048.2]],
    items:series.map(s=>({label:s.label,color:s.color,op:0.7}))});
}

// ---------------- PANEL (e) ----------------
{
  const p = panel({bg:[28,1040,651,1492], pl:73.6, pr:634, pt:1082.7, pb:1296.7, xr:[84.7,623.2],
    yd:[0,100], yr:[1286.7,1096.7], yt:[0,20,40,60,80,100], ytl:["0","20","40","60","80","100"],
    grid:[0,20,40,60,80,100], ty:1066, title:"Daily Bad Volatilities of Indices"});
  const series = [
    {label:"badvol_market", color:C.navy, pts:bvMarket},
    {label:"badvol_consumerservices", color:C.maroon, pts:bvConsumer},
    {label:"badvol_financials", color:C.forest, pts:bvFinancials},
    {label:"badvol_healthcare", color:C.dkorange, pts:bvHealthcare},
    {label:"badvol_industrials", color:C.teal, pts:bvIndustrials},
    {label:"badvol_materials", color:C.cranberry, pts:bvMaterials},
    {label:"badvol_oilgas", color:C.lavender, pts:bvOilgas},
    {label:"badvol_REIT", color:C.khaki, pts:bvReit},
    {label:"badvol_technology", color:C.sienna, pts:bvTechnology},
    {label:"badvol_telecom", color:C.emidblue, pts:bvTelecom},
    {label:"badvol_utilities", color:C.emerald, pts:bvUtilities}
  ];
  series.forEach(s=>lineSeries(p, s.pts, s.color, 0.9, 1.3));
  legend(p.g, {box:[107.4,1332.3,599.4,1471], row0:1346.7, dy:22, cols:[[114,172,181.6],[337.5,397,405.8]],
    items:series.map(s=>({label:s.label,color:s.color}))});
}

// ---------------- PANEL (f) ----------------
{
  const p = panel({bg:[670,1040,1294,1492], pl:717.6, pr:1276, pt:1082.7, pb:1391, xr:[727.5,1265.2],
    yd:[0,15], yr:[1381,1092.7], yt:[0,5,10,15], ytl:["0","5","10","15"],
    grid:[0,5,10,15], ty:1066, title:"Good versus Bad Volatility of the Market Index"});
  lineSeries(p, goodVol, C.navy, 1, 1.3);
  lineSeries(p, badVol, C.maroon, 0.9, 1.6);
  p.g.append("text").attr("x",996.2).attr("y",1424).attr("dy","0.35em").attr("text-anchor","middle").attr("font-size",FS).attr("fill",TXT).text("date");
  p.g.append("rect").attr("x",812).attr("y",1442.7).attr("width",367).attr("height",28.3).attr("fill","#fff").attr("stroke","#111").attr("stroke-width",1.2);
  p.g.append("line").attr("x1",818.8).attr("x2",878.3).attr("y1",1456.7).attr("y2",1456.7).attr("stroke",C.navy).attr("stroke-width",1.6);
  p.g.append("text").attr("x",887.5).attr("y",1456.7).attr("dy","0.35em").attr("font-size",FS).attr("fill",TXT).text("Good Volatility");
  p.g.append("line").attr("x1",1012).attr("x2",1071.6).attr("y1",1456.7).attr("y2",1456.7).attr("stroke",C.maroon).attr("stroke-width",1.6);
  p.g.append("text").attr("x",1080.7).attr("y",1456.7).attr("dy","0.35em").attr("font-size",FS).attr("fill",TXT).text("Bad Volatility");
}

// ---------------- SUBCAPTIONS ----------------
subcap(313,493,"(a)"); subcap(966,493,"(b)");
subcap(334,1008,"(c)"); subcap(977,1008,"(d)");
subcap(334,1523,"(e)"); subcap(977,1523,"(f)");
</script>
</body></html>
